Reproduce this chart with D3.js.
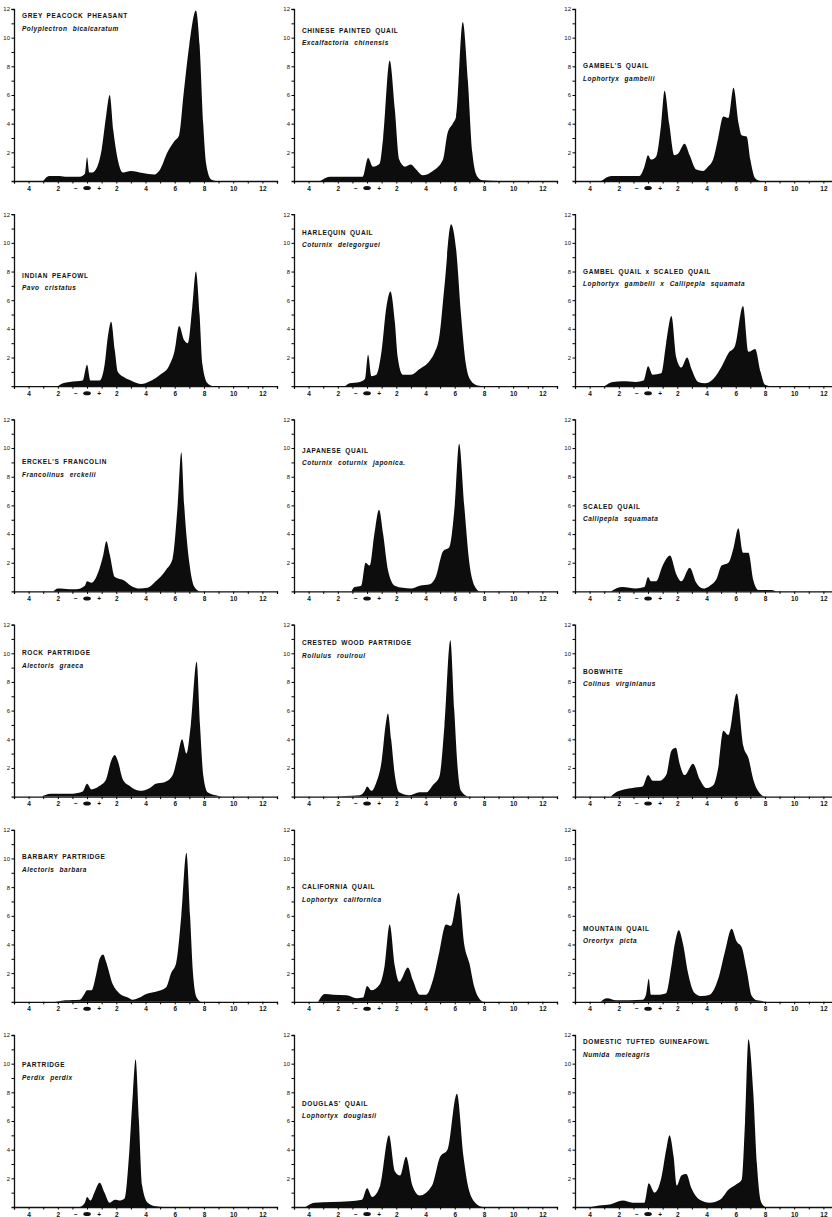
<!DOCTYPE html>
<html>
<head>
<meta charset="utf-8">
<script src="https://cdn.jsdelivr.net/npm/d3@7"></script>
<style>
  body { margin: 0; background: #fff; }
  svg { display: block; }
  .tick text { font-family: "Liberation Sans", Arial, sans-serif; fill: #111; }
  .title { font-family: "Liberation Sans", Arial, sans-serif; font-weight: bold; font-size: 6.5px; letter-spacing: 0.6px; word-spacing: 1.5px; fill: #111; }
  .latin { font-family: "Liberation Sans", Arial, sans-serif; font-weight: bold; font-style: italic; font-size: 6.5px; letter-spacing: 0.5px; word-spacing: 3px; fill: #111; }
</style>
</head>
<body>
<svg id="plates" width="832" height="1217"></svg>
<script>
// panels are listed row by row, three per row
const commonNames = [
  "GREY PEACOCK PHEASANT", "CHINESE PAINTED QUAIL", "GAMBEL'S QUAIL",
  "INDIAN PEAFOWL", "HARLEQUIN QUAIL", "GAMBEL QUAIL x SCALED QUAIL",
  "ERCKEL'S FRANCOLIN", "JAPANESE QUAIL", "SCALED QUAIL",
  "ROCK PARTRIDGE", "CRESTED WOOD PARTRIDGE", "BOBWHITE",
  "BARBARY PARTRIDGE", "CALIFORNIA QUAIL", "MOUNTAIN QUAIL",
  "PARTRIDGE", "DOUGLAS' QUAIL", "DOMESTIC TUFTED GUINEAFOWL"
];

const latinNames = [
  "Polyplectron bicalcaratum", "Excalfactoria chinensis", "Lophortyx gambelii",
  "Pavo cristatus", "Coturnix delegorguei", "Lophortyx gambelii x Callipepla squamata",
  "Francolinus erckelii", "Coturnix coturnix japonica.", "Callipepla squamata",
  "Alectoris graeca", "Rollulus roulroul", "Colinus virginianus",
  "Alectoris barbara", "Lophortyx californica", "Oreortyx picta",
  "Perdix perdix", "Lophortyx douglasii", "Numida meleagris"
];

// densitometer traces: [distance from origin, optical density]
const profiles = [
  [[-3.0,0],[-2.6,0.35],[-2.0,0.35],[-1.5,0.3],[-0.5,0.3],[-0.15,0.5],[0,1.65],[0.15,0.6],[0.35,0.6],[0.7,1.0],[1.0,2.2],[1.3,4.5],[1.55,6.0],[1.8,3.5],[2.1,1.5],[2.45,0.6],[3.0,0.7],[3.8,0.55],[4.6,0.45],[5.0,0.8],[5.5,2.0],[6.0,2.8],[6.3,3.2],[6.6,6.0],[7.0,9.5],[7.45,11.9],[7.7,9.5],[7.95,4.0],[8.15,1.2],[8.5,0.1],[8.8,0]],
  [[-3.2,0],[-2.5,0.3],[-1.5,0.3],[-0.3,0.3],[0.07,1.6],[0.4,1.0],[0.86,1.2],[1.1,3.0],[1.55,8.4],[1.9,5.0],[2.2,1.5],[2.6,1.0],[3.0,1.15],[3.36,0.8],[3.8,0.4],[4.5,0.7],[5.2,1.5],[5.5,3.3],[5.86,4.0],[6.1,4.5],[6.55,11.1],[6.9,7.0],[7.2,2.0],[7.55,0.3],[7.9,0.05],[9,0]],
  [[-3.2,0],[-2.5,0.35],[-1.5,0.35],[-0.6,0.35],[-0.25,1.0],[0,1.8],[0.2,1.5],[0.55,1.7],[0.9,4.0],[1.13,6.3],[1.45,4.0],[1.8,1.8],[2.05,1.9],[2.5,2.6],[2.85,1.8],[3.3,0.8],[3.75,0.7],[4.1,1.0],[4.45,1.5],[4.8,3.0],[5.15,4.5],[5.5,4.4],[5.85,6.5],[6.2,4.0],[6.4,3.2],[6.75,3.1],[7.0,1.5],[7.33,0.2],[7.7,0]],
  [[-2.0,0],[-1.65,0.2],[-0.75,0.35],[-0.3,0.4],[0,1.5],[0.23,0.4],[0.86,0.4],[1.2,1.5],[1.43,3.5],[1.65,4.5],[1.9,2.5],[2.1,1.0],[2.57,0.6],[3.1,0.35],[3.7,0.15],[4.3,0.35],[5.0,0.8],[5.6,1.4],[6.0,2.5],[6.3,4.2],[6.65,3.2],[6.9,3.0],[7.2,5.5],[7.45,8.0],[7.7,5.0],[7.9,1.5],[8.25,0.2],[8.6,0]],
  [[-1.5,0],[-1.2,0.2],[-0.5,0.3],[-0.15,0.5],[0.07,2.2],[0.3,0.7],[0.64,0.8],[1.0,2.5],[1.32,5.5],[1.6,6.6],[1.9,4.5],[2.1,2.0],[2.45,0.8],[3.0,0.8],[3.6,1.2],[4.3,1.8],[4.6,2.3],[4.95,3.5],[5.3,7.0],[5.75,11.3],[6.1,9.5],[6.43,5.0],[6.77,1.5],[7.1,0.4],[7.57,0.05],[8.1,0]],
  [[-3.0,0],[-2.4,0.3],[-1.75,0.35],[-0.83,0.3],[-0.3,0.4],[0,1.4],[0.32,0.8],[0.9,0.9],[1.24,3.0],[1.6,4.9],[1.93,2.0],[2.28,1.3],[2.67,2.0],[2.97,1.2],[3.43,0.3],[3.9,0.2],[4.46,0.5],[5.0,1.3],[5.5,2.3],[5.95,2.8],[6.5,5.6],[6.87,2.4],[7.33,2.6],[7.7,1.0],[8.0,0.1],[8.4,0]],
  [[-2.3,0],[-2.0,0.2],[-1.2,0.15],[-0.75,0.15],[-0.15,0.4],[0,0.7],[0.3,0.6],[0.75,1.3],[1.1,2.5],[1.32,3.5],[1.55,2.6],[1.9,1.0],[2.57,0.75],[3.0,0.4],[3.6,0.2],[4.15,0.25],[4.7,0.7],[5.4,1.5],[5.86,2.3],[6.2,6.0],[6.45,9.7],[6.65,6.0],[7.0,2.0],[7.35,0.3],[7.7,0]],
  [[-1.07,0],[-0.85,0.3],[-0.4,0.4],[-0.1,2.0],[0.18,1.8],[0.5,4.0],[0.82,5.7],[1.1,4.0],[1.43,1.5],[1.9,0.4],[2.45,0.25],[3.0,0.2],[3.6,0.4],[4.3,0.5],[4.7,1.0],[5.2,2.8],[5.64,3.1],[6.0,6.0],[6.3,10.3],[6.65,6.0],[7.0,2.0],[7.35,0.4],[7.7,0]],
  [[-2.55,0],[-1.75,0.3],[-0.83,0.2],[-0.25,0.3],[0,1.0],[0.2,0.7],[0.55,0.7],[1.0,1.8],[1.5,2.5],[1.93,1.2],[2.28,0.7],[2.85,1.65],[3.3,0.6],[3.77,0.2],[4.23,0.4],[4.7,0.9],[5.03,1.8],[5.5,2.0],[5.84,3.0],[6.18,4.4],[6.5,2.7],[6.87,2.7],[7.2,0.8],[7.56,0.1],[8.4,0.1],[8.8,0]],
  [[-3.1,0],[-2.5,0.2],[-1.0,0.2],[-0.3,0.35],[0,0.9],[0.3,0.5],[0.86,0.75],[1.3,1.2],[1.65,2.5],[1.9,2.9],[2.1,2.5],[2.45,1.2],[2.9,0.75],[3.6,0.4],[4.3,0.6],[4.7,0.9],[5.3,1.0],[5.86,1.5],[6.2,2.8],[6.5,4.0],[6.8,3.0],[7.1,5.0],[7.5,9.4],[7.73,5.0],[7.95,1.5],[8.25,0.3],[9.0,0.05],[9.5,0]],
  [[-2.8,0],[-1.5,0.05],[-0.5,0.1],[-0.15,0.4],[0,0.7],[0.3,0.4],[0.64,1.0],[1.0,2.5],[1.27,5.0],[1.43,5.8],[1.65,4.0],[1.9,1.5],[2.2,0.3],[2.9,0.1],[3.6,0.3],[4.05,0.3],[4.5,0.8],[4.95,1.4],[5.3,5.0],[5.7,10.9],[5.97,6.0],[6.2,2.0],[6.43,0.4],[6.9,0]],
  [[-2.55,0],[-2.1,0.35],[-1.06,0.6],[-0.37,0.7],[0,1.5],[0.32,1.1],[0.78,1.1],[1.24,1.5],[1.6,3.2],[1.9,3.4],[2.16,2.3],[2.5,1.5],[3.08,2.3],[3.54,1.2],[4.0,0.6],[4.46,0.8],[4.8,2.0],[5.15,4.6],[5.5,4.3],[6.07,7.2],[6.53,3.5],[6.87,2.7],[7.2,1.2],[7.68,0.2],[8.0,0]],
  [[-2.2,0],[-1.5,0.1],[-0.5,0.15],[-0.15,0.6],[0,0.8],[0.3,0.8],[0.64,2.0],[0.86,3.0],[1.1,3.3],[1.3,2.8],[1.77,1.2],[2.2,0.6],[2.8,0.3],[3.1,0.15],[3.6,0.3],[4.05,0.55],[4.7,0.7],[5.4,1.0],[5.75,2.0],[6.1,2.7],[6.45,6.0],[6.8,10.4],[7.05,6.0],[7.25,2.0],[7.5,0.3],[7.8,0]],
  [[-3.35,0],[-2.9,0.55],[-2.3,0.5],[-1.4,0.45],[-0.73,0.25],[-0.27,0.3],[0,1.1],[0.3,0.8],[0.86,1.2],[1.2,2.5],[1.55,5.4],[1.9,2.5],[2.2,1.4],[2.8,2.4],[3.14,1.5],[3.6,0.5],[4.05,0.5],[4.5,1.5],[4.95,3.5],[5.4,5.4],[5.75,5.3],[6.27,7.6],[6.65,4.0],[7.0,2.7],[7.35,1.0],[7.7,0.2],[8.0,0]],
  [[-3.25,0],[-2.8,0.25],[-2.2,0.1],[-0.37,0.15],[-0.14,0.5],[0.05,1.6],[0.2,0.5],[0.78,0.5],[1.24,0.6],[1.6,2.5],[1.82,4.0],[2.1,5.0],[2.4,4.0],[2.74,2.0],[3.2,0.6],[3.66,0.4],[4.23,0.5],[4.8,1.6],[5.26,3.5],[5.72,5.1],[6.07,4.2],[6.41,3.8],[6.75,2.2],[7.1,0.4],[7.45,0.1],[8.4,0]],
  [[-0.5,0],[-0.15,0.3],[0,0.7],[0.23,0.45],[0.5,1.0],[0.86,1.7],[1.2,1.0],[1.55,0.3],[1.9,0.5],[2.2,0.45],[2.57,0.6],[2.9,4.0],[3.14,8.0],[3.32,10.3],[3.55,6.0],[3.77,1.5],[4.15,0.3],[4.7,0.05],[5.2,0]],
  [[-4.2,0],[-3.6,0.3],[-1.2,0.4],[-0.35,0.5],[0,1.3],[0.35,0.7],[0.9,1.5],[1.5,5.0],[1.9,2.5],[2.26,2.2],[2.67,3.5],[3.1,1.5],[3.6,0.8],[4.45,1.5],[5.0,3.5],[5.5,4.0],[6.15,7.9],[6.6,3.5],[6.9,1.5],[7.4,0.3],[7.9,0]],
  [[-3.9,0],[-3.35,0.1],[-2.55,0.2],[-1.75,0.45],[-1.06,0.3],[-0.25,0.3],[0.05,1.65],[0.44,1.0],[0.9,2.0],[1.24,4.0],[1.47,5.0],[1.75,3.5],[1.97,1.5],[2.28,2.2],[2.62,2.3],[2.97,1.3],[3.54,0.5],[4.23,0.3],[4.92,0.5],[5.5,1.2],[6.07,1.6],[6.41,1.9],[6.64,6.0],[6.87,11.7],[7.2,8.0],[7.45,3.0],[7.72,0.4],[8.0,0]]
];

// height (in density units) at which each caption is lettered
const captionLevel = [11.5, 10.5, 8.0, 7.7, 10.7, 8.0, 9.0, 9.8, 5.9, 10.0, 10.7, 8.7, 10.1, 8.0, 5.1, 9.9, 7.2, 11.5];

const yTickVals = d3.range(1, 13);
const xMinorTicks = d3.range(-5, 14);
const xLabelVals = [-4, -2, -0.8, 0.8, 2, 4, 6, 8, 10, 12];
const xLabelText = ["4", "2", "\u2212", "+", "2", "4", "6", "8", "10", "12"];

let svg = d3.select("svg#plates"),
	colX = [14, 294, 575],
	rowBase = 181,
	rowStep = 205.2,
	plotW = 263,
	plotH = 172;

let x = d3.scaleLinear().domain([-5, 13]).range([0, plotW]);
let y = d3.scaleLinear().domain([0, 12]).range([plotH, 0]);

let area = d3.area()
	.x(function(d) { return x(d[0]); })
	.y0(y(0))
	.y1(function(d) { return y(d[1]); })
	.curve(d3.curveMonotoneX);

profiles.forEach(function(trace, i) {
	let col = i % 3, row = Math.floor(i / 3);
	let g = svg.append("g")
		.attr("transform", "translate(" + colX[col] + "," + (rowBase + row * rowStep - plotH) + ")");

	// filled trace
	g.append("path")
		.datum(trace)
		.attr("d", area)
		.attr("fill", "#0d0d0d");

	// y axis
	let ya = g.append("g")
		.call(d3.axisLeft(y)
			.tickValues(yTickVals)
			.tickSize(2.5)
			.tickPadding(1.5)
			.tickFormat(function(d) { return d % 2 === 0 ? d : ""; }));
	ya.selectAll(".tick text").style("font-size", "6px");

	// x axis: minor ticks, then lettering
	g.append("g")
		.attr("transform", "translate(0," + plotH + ")")
		.call(d3.axisBottom(x).tickValues(xMinorTicks).tickSize(2.5).tickFormat(""));
	let xl = g.append("g")
		.attr("transform", "translate(0," + plotH + ")")
		.call(d3.axisBottom(x).tickValues(xLabelVals).tickSize(0).tickPadding(5)
			.tickFormat(function(d, j) { return xLabelText[j]; }));
	xl.select(".domain").remove();
	xl.selectAll(".tick text").style("font-size", "6.5px").style("font-weight", "bold");

	svg.selectAll(".domain").attr("stroke", "#111").attr("stroke-width", 1.3);

	// origin mark
	g.append("ellipse")
		.attr("cx", x(0))
		.attr("cy", plotH + 7)
		.attr("rx", 3.8)
		.attr("ry", 2)
		.attr("fill", "#111");

	// caption
	let ty = y(captionLevel[i]);
	g.append("text")
		.attr("class", "title")
		.attr("x", 8)
		.attr("y", ty + 2)
		.text(commonNames[i]);
	g.append("text")
		.attr("class", "latin")
		.attr("x", 8)
		.attr("y", ty + 14.5)
		.text(latinNames[i]);
});
</script>
</body>
</html>
